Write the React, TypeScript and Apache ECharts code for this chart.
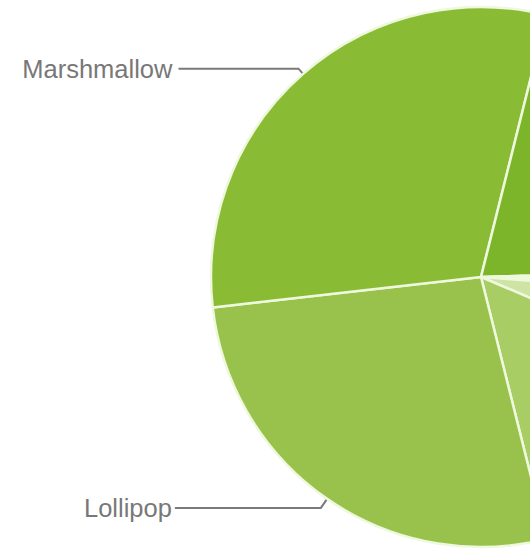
import React, { useEffect, useRef } from "react";
import * as echarts from "echarts";

const versions = ["Gingerbread", "Ice Cream Sandwich", "Jelly Bean", "KitKat", "Lollipop", "Marshmallow", "Nougat", "Oreo"];
const shares = [0.6, 0.6, 5.2, 14.7, 27.1, 30.7, 20.6, 0.5];
const sliceColors = ["#e6f2d2", "#dcedbf", "#cde4a5", "#a8cd64", "#98c24b", "#8abb35", "#7db52a", "#6fa81c"];
const labelledVersions = ["Marshmallow", "Lollipop"];

export default function App() {
  const ref = useRef<HTMLDivElement>(null);
  useEffect(() => {
    if (!ref.current) return;
    const chart = echarts.init(ref.current, null, { renderer: "svg" });
    const lineLens: Record<string, [number, number, number]> = {
      Marshmallow: [7, 120, 6],
      Lollipop: [11, 146, 3],
    };
    const data = versions.map((name, i) => {
      const show = labelledVersions.includes(name);
      const item: any = {
        name,
        value: shares[i],
        itemStyle: { color: sliceColors[i] },
        label: { show },
        labelLine: { show },
      };
      if (show) {
        item.label = { show: true, distanceToLabelLine: lineLens[name][2] };
        item.labelLine = { show: true, length: lineLens[name][0], length2: lineLens[name][1] };
      }
      return item;
    });
    chart.setOption({
      animation: false,
      backgroundColor: "#ffffff",
      series: [
        {
          type: "pie",
          center: [481, 277],
          radius: 270,
          startAngle: 0,
          clockwise: true,
          avoidLabelOverlap: false,
          itemStyle: { borderColor: "#eef8dc", borderWidth: 2.5 },
          label: {
            position: "outer",
            color: "#787878",
            fontSize: 25.5,
            fontFamily: "Liberation Sans, Arial, sans-serif",
            distanceToLabelLine: 5,
          },
          labelLine: {
            smooth: false,
            lineStyle: { color: "#7a7a7a", width: 2 },
          },
          emphasis: { disabled: true },
          data,
        },
      ],
    });
    return () => chart.dispose();
  }, []);
  return (
    <div
      ref={ref}
      style={{ position: "fixed", left: 0, top: 0, width: 530, height: 549, background: "#fff" }}
    />
  );
}
